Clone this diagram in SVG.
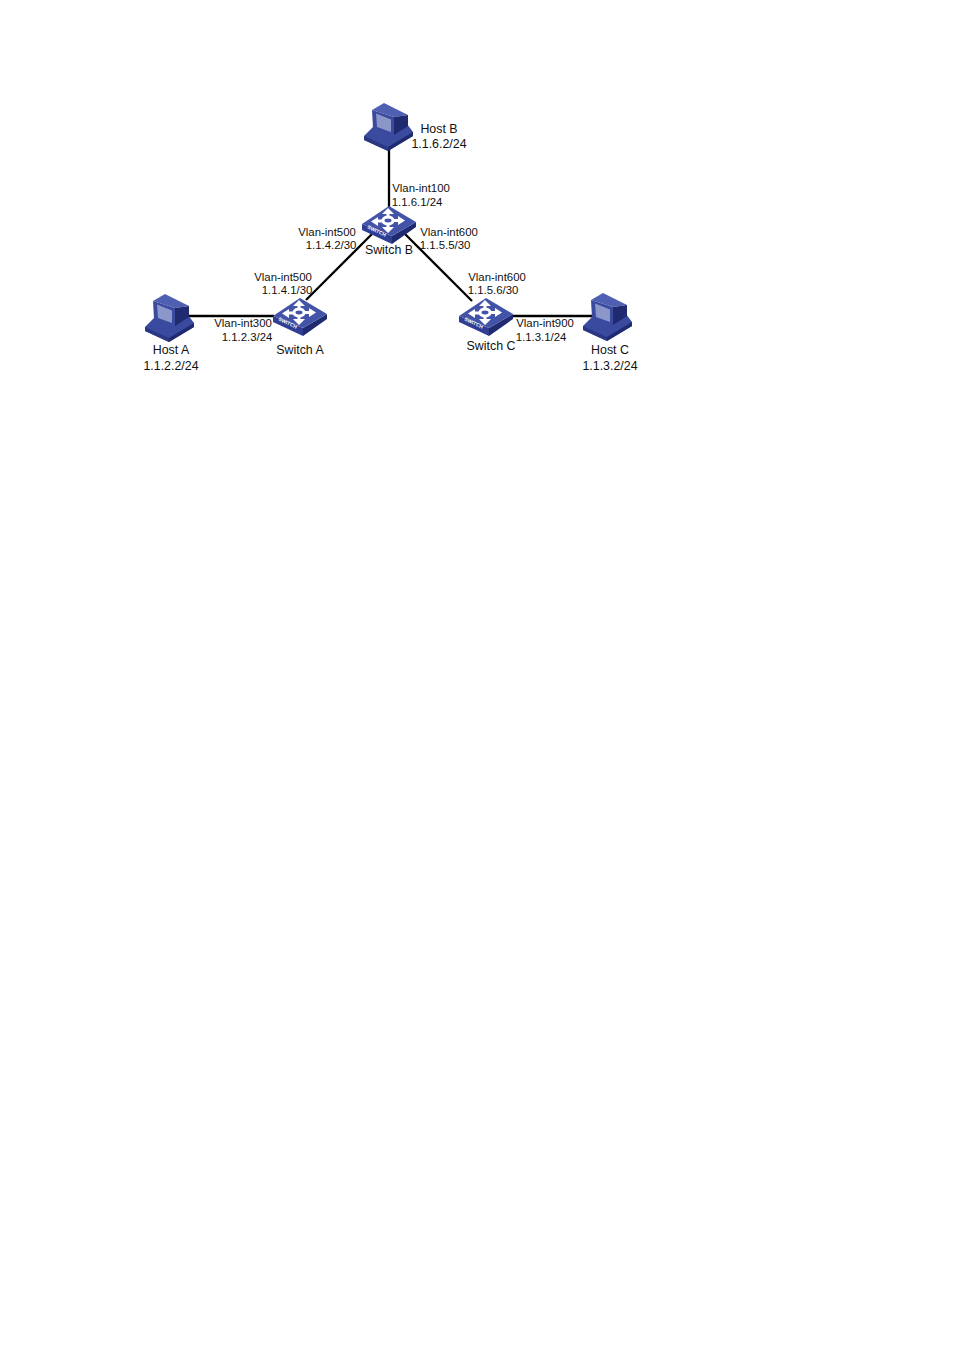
<svg xmlns="http://www.w3.org/2000/svg" width="954" height="1350" viewBox="0 0 954 1350">
<style>
text{font-family:"Liberation Sans",Arial,sans-serif;fill:#111}
.n{font-size:12.4px;text-anchor:middle}
.s{font-size:11.4px;text-anchor:middle}
.l{stroke:#000;stroke-width:2.3;fill:none}
.t{font-size:5px;font-weight:bold;fill:#fff;text-anchor:middle}
</style>
<defs>
<symbol id="sw" width="56" height="40" viewBox="0 0 56 40" overflow="visible">
<path d="M1 19L31 31L31 39L1 25Z" fill="#2f3d92"/>
<path d="M31 31L55 17L55 22L31 39Z" fill="#1f2a70"/>
<path d="M1 19L28 1L55 17L31 31Z" fill="#4353a8"/>
<g stroke="#fff" stroke-width="3" fill="none">
<ellipse cx="27" cy="15.500" rx="5" ry="3.400"/>
<path d="M27 11V7M27 20V24M21 16H15M33 15.500H39"/>
</g>
<path d="M27 3L21 9H33ZM27 28L21 22H33ZM10 16.500L17 12V21ZM44 15.500L37 11V20Z" fill="#fff"/>
</symbol>
<symbol id="host" width="50" height="48" viewBox="0 0 50 48" overflow="visible">
<path d="M0 33L9 24L43 21L49 29L49 33L24 48L0 37Z" fill="#3a4a9e"/>
<path d="M0 33L24 44L24 48L0 37Z" fill="#2a3884"/>
<path d="M24 44L49 29L49 33L24 48Z" fill="#1f2a70"/>
<path d="M8 7L20 0L44 12L30 14Z" fill="#4f60b2"/>
<path d="M30 14L44 12L44 23L30 32Z" fill="#1f2a70"/>
<path d="M8 7L30 14L30 32L9 25Z" fill="#3a4a9e"/>
<path d="M12 10.500L27 16.500L27 29L13 24Z" fill="#8b97c9"/>
</symbol>
</defs>
<g id="connectors">
<path class="l" d="M389 148V210"/>
<path class="l" d="M372 234L306 300"/>
<path class="l" d="M405 234L472 301"/>
<path class="l" d="M188 316H274"/>
<path class="l" d="M512 316H592"/>
</g>
<g id="host-b"><use href="#host" x="364" y="103"/><text class="n" x="439" y="133">Host B</text><text class="n" x="439" y="148">1.1.6.2/24</text></g>
<g id="switch-b"><use href="#sw" x="361" y="205"/><text class="t" transform="translate(376 232.500) rotate(25)">SWITCH</text><text class="n" x="389" y="254">Switch B</text></g>
<g id="switch-a"><use href="#sw" x="272" y="297"/><text class="t" transform="translate(287 324.500) rotate(25)">SWITCH</text><text class="n" x="300" y="354">Switch A</text></g>
<g id="switch-c"><use href="#sw" x="458" y="297"/><text class="t" transform="translate(473 324.500) rotate(25)">SWITCH</text><text class="n" x="491" y="350">Switch C</text></g>
<g id="host-a"><use href="#host" x="145" y="294"/><text class="n" x="171" y="354">Host A</text><text class="n" x="171" y="370">1.1.2.2/24</text></g>
<g id="host-c"><use href="#host" x="583" y="293"/><text class="n" x="610" y="354">Host C</text><text class="n" x="610" y="370">1.1.3.2/24</text></g>
<g id="labels">
<text class="s" x="421" y="192">Vlan-int100</text><text class="s" x="417" y="206">1.1.6.1/24</text>
<text class="s" x="327" y="236">Vlan-int500</text><text class="s" x="331" y="249">1.1.4.2/30</text>
<text class="s" x="449" y="236">Vlan-int600</text><text class="s" x="445" y="249">1.1.5.5/30</text>
<text class="s" x="283" y="281">Vlan-int500</text><text class="s" x="287" y="294">1.1.4.1/30</text>
<text class="s" x="497" y="281">Vlan-int600</text><text class="s" x="493" y="294">1.1.5.6/30</text>
<text class="s" x="243" y="327">Vlan-int300</text><text class="s" x="247" y="341">1.1.2.3/24</text>
<text class="s" x="545" y="327">Vlan-int900</text><text class="s" x="541" y="341">1.1.3.1/24</text>
</g>
</svg>
